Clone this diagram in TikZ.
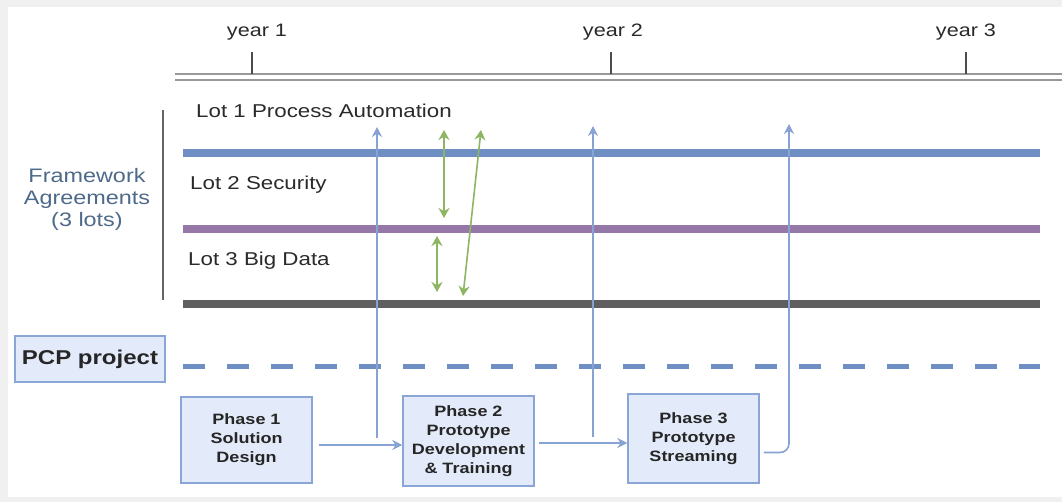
\documentclass[tikz,border=0pt]{standalone}
\usepackage{fontspec}
\setmainfont{Liberation Sans}
\usetikzlibrary{arrows.meta,calc}
\definecolor{bgray}{HTML}{F0F0F0}
\definecolor{lotblue}{HTML}{6E8EC4}
\definecolor{lotpurple}{HTML}{9678A8}
\definecolor{lotdark}{HTML}{5F5F5F}
\definecolor{arrblue}{HTML}{86A3D4}
\definecolor{arrgreen}{HTML}{8DB564}
\definecolor{boxfill}{HTML}{E3EBFA}
\definecolor{boxline}{HTML}{8AA6D6}
\definecolor{fwtext}{HTML}{4E6A8A}
\definecolor{lbltext}{HTML}{2A2A2A}
\newcommand{\hstretch}[1]{\scalebox{1.2}[1]{#1}}
\tikzset{
  lbl/.style={inner sep=0pt, anchor=west, text=lbltext, font=\fontsize{18.6}{22}\selectfont},
  yearlbl/.style={inner sep=0pt, text=lbltext, font=\fontsize{18}{22}\selectfont},
  fw/.style={inner sep=0pt, text=fwtext, font=\fontsize{19.5}{22}\selectfont},
  lotline/.style={line width=8pt},
  phasebox/.style={draw=boxline, fill=boxfill, line width=1.5pt, inner sep=0pt,
    minimum width=131pt, font=\fontsize{15}{19}\selectfont\bfseries, text=black!85},
  barrow/.style={draw=arrblue, line width=1.6pt, -{Stealth[length=10pt,width=10pt]}},
  garrow/.style={draw=arrgreen, line width=1.6pt, {Stealth[length=10pt,width=11pt]}-{Stealth[length=10pt,width=11pt]}},
}
\begin{document}
\begin{tikzpicture}[x=1pt,y=-1pt]
\useasboundingbox (0,0) rectangle (1062,502);
\fill[bgray] (0,0) rectangle (1062,502);
\fill[white] (8,7) rectangle (1062,497);

% timeline
\draw[gray!80, line width=1.8pt] (175,74) -- (1062,74);
\draw[gray!80, line width=1.8pt] (175,80) -- (1062,80);
\coordinate (t1) at (252,74);
\coordinate (t2) at (611,74);
\coordinate (t3) at (966,74);
\draw[black!70, line width=1.6pt] (t1) -- ++(0,-22);
\draw[black!70, line width=1.6pt] (t2) -- ++(0,-22);
\draw[black!70, line width=1.6pt] (t3) -- ++(0,-22);
\node[yearlbl] (y1) at (257,32) {\hstretch{year 1}};
\node[yearlbl] (y2) at (613,32) {\hstretch{year 2}};
\node[yearlbl] (y3) at (966,32) {\hstretch{year 3}};

% framework label
\node[fw] (fw) at (87,200) {\hstretch{\begin{tabular}{@{}c@{}}Framework\\Agreements\\(3 lots)\end{tabular}}};
\draw[black!60, line width=1.5pt] (163,110) -- (163,300);

% lots
\node[lbl] (lot1) at (196,111) {\hstretch{Lot 1 Process Automation}};
\node[lbl] (lot2) at (190,185) {\hstretch{Lot 2 Security}};
\node[lbl] (lot3) at (188,261) {\hstretch{Lot 3 Big Data}};
\draw[lotline, lotblue] (183,153) -- (1040,153);
\draw[lotline, lotpurple] (183,229) -- (1040,229);
\draw[lotline, lotdark] (183,304) -- (1040,304);

% PCP
\node[draw=boxline, fill=boxfill, line width=1.5pt, minimum width=150pt, minimum height=46pt,
  inner sep=0pt, font=\fontsize{20}{24}\selectfont\bfseries, text=black!85] (pcp) at (90,359) {\hstretch{PCP project}};
\draw[lotblue, line width=5pt, dash pattern=on 22pt off 22pt] (183,366) -- (1040,366);

% phases
\node[phasebox, minimum height=86pt] (p1) at (246.5,440) {\hstretch{\begin{tabular}{@{}c@{}}Phase 1\\Solution\\Design\end{tabular}}};
\node[phasebox, minimum height=90pt] (p2) at (468.5,441) {\hstretch{\begin{tabular}{@{}c@{}}Phase 2\\Prototype\\Development\\\& Training\end{tabular}}};
\node[phasebox, minimum height=89pt] (p3) at (693.5,438.5) {\hstretch{\begin{tabular}{@{}c@{}}Phase 3\\Prototype\\Streaming\end{tabular}}};

% blue connectors
\coordinate (a1s) at ($(p1.east)+(6,5)$);
\draw[barrow] (a1s) -- (p2.west |- a1s);
\coordinate (v1b) at (377,438);
\coordinate (v1t) at (377,127);
\draw[barrow] (v1b) -- (v1t);
\coordinate (a2s) at ($(p2.east)+(4,2)$);
\draw[barrow] (a2s) -- (p3.west |- a2s);
\coordinate (v2b) at (593,437);
\coordinate (v2t) at (593,126);
\draw[barrow] (v2b) -- (v2t);
\coordinate (a3s) at ($(p3.east)+(4,14)$);
\coordinate (v3t) at (789,124);
\draw[barrow, rounded corners=9pt] (a3s) -- (v3t |- a3s) -- (v3t);

% green connectors
\coordinate (g1t) at (444,130);
\coordinate (g1b) at (444,218);
\draw[garrow] (g1t) -- (g1b);
\coordinate (g2t) at (437,236);
\coordinate (g2b) at (437,292);
\draw[garrow] (g2t) -- (g2b);
\coordinate (g3t) at (481,130);
\coordinate (g3b) at (463,296);
\draw[garrow] (g3t) -- (g3b);
\end{tikzpicture}
\end{document}
